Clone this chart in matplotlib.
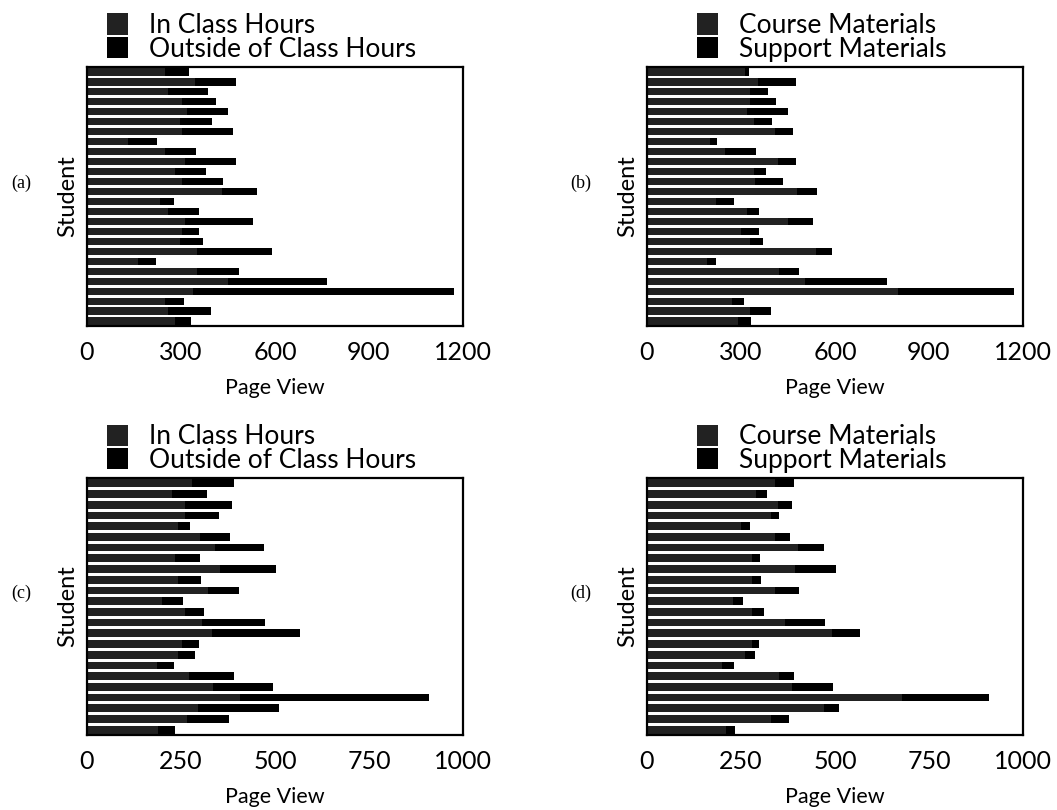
#!/usr/bin/env python3
# Page views per student, four stacked horizontal bar panels

import numpy as np
import matplotlib
matplotlib.use("Agg")
import matplotlib.pyplot as plt

# panel (a) / (b): 26 students, top row first
a_in = [249, 345, 260, 302, 318, 297, 302, 132, 249, 313, 281, 302, 430,
        233, 260, 313, 302, 297, 350, 164, 350, 451, 339, 249, 260, 281]
a_out = [78, 130, 127, 109, 132, 101, 163, 90, 98, 162, 99, 132, 112,
         46, 98, 216, 55, 73, 242, 56, 135, 314, 831, 61, 135, 51]
b_course = [313, 355, 330, 330, 318, 340, 408, 200, 249, 419, 340, 345, 480,
            220, 320, 451, 300, 330, 540, 190, 420, 504, 802, 270, 330, 290]
b_support = [14, 120, 57, 81, 132, 58, 57, 22, 98, 56, 40, 89, 62,
             59, 38, 78, 57, 40, 52, 30, 65, 261, 368, 40, 65, 42]

# panel (c) / (d): 24 students
c_in = [278, 227, 261, 261, 243, 300, 340, 234, 354, 243, 323, 199,
        261, 305, 332, 252, 243, 185, 270, 336, 407, 296, 265, 190]
c_out = [113, 92, 125, 91, 32, 79, 132, 67, 148, 60, 80, 55,
         51, 168, 234, 47, 45, 47, 122, 159, 502, 214, 113, 44]
d_course = [340, 290, 349, 330, 250, 340, 402, 280, 394, 280, 340, 230,
            280, 367, 491, 280, 260, 200, 350, 385, 677, 470, 330, 210]
d_support = [51, 29, 37, 22, 25, 39, 70, 21, 108, 23, 63, 24,
             32, 106, 75, 19, 28, 32, 42, 110, 232, 40, 48, 24]

labels_time = ["In Class Hours", "Outside of Class Hours"]
labels_mat = ["Course Materials", "Support Materials"]
ticks_top = [0, 300, 600, 900, 1200]
ticks_bot = [0, 250, 500, 750, 1000]

plt.rcParams['font.family'] = ['Lato', 'DejaVu Sans']

W, H = 1057, 810
fig = plt.figure(figsize=(W/100, H/100), dpi=100)

def make_ax(left, top, right, bottom):
    return fig.add_axes([left/W, 1 - bottom/H, (right-left)/W, (bottom-top)/H])

panels = [
    (make_ax(87, 67, 463, 326), a_in, a_out, labels_time, ticks_top, "(a)", 0.053),
    (make_ax(647, 67, 1023, 326), b_course, b_support, labels_mat, ticks_top, "(b)", 0.133),
    (make_ax(87, 478, 463, 735), c_in, c_out, labels_time, ticks_bot, "(c)", 0.053),
    (make_ax(647, 478, 1023, 735), d_course, d_support, labels_mat, ticks_bot, "(d)", 0.133),
]

c1 = '#222222'
c2 = '#000000'

for ax, s1, s2, labs, ticks, tag, lx in panels:
    n = len(s1)
    y = np.arange(n)
    ax.barh(y, s1, height=0.72, color=c1, label=labs[0])
    ax.barh(y, s2, left=s1, height=0.72, color=c2, label=labs[1])
    ax.set_ylim(n - 0.5, -0.5)
    ax.set_xlim(ticks[0], ticks[-1])
    ax.set_xticks(ticks)
    ax.set_yticks([])
    ax.tick_params(axis='x', length=0, pad=11, labelsize=18)
    for sp in ax.spines.values():
        sp.set_linewidth(1.6)
    ax.set_xlabel("Page View", fontsize=15.5, labelpad=10)
    ax.set_ylabel("Student", fontsize=17, labelpad=6)
    ax.text(-0.175, 0.55, tag, transform=ax.transAxes, fontsize=13,
            family='Liberation Serif', ha='center', va='center')
    ax.legend(loc='lower left', bbox_to_anchor=(lx, 1.02), frameon=False,
              fontsize=19, handlelength=0.8, handleheight=0.85,
              handletextpad=0.8, labelspacing=-0.05, borderpad=0,
              borderaxespad=0)

plt.savefig('out.png', dpi=100)
